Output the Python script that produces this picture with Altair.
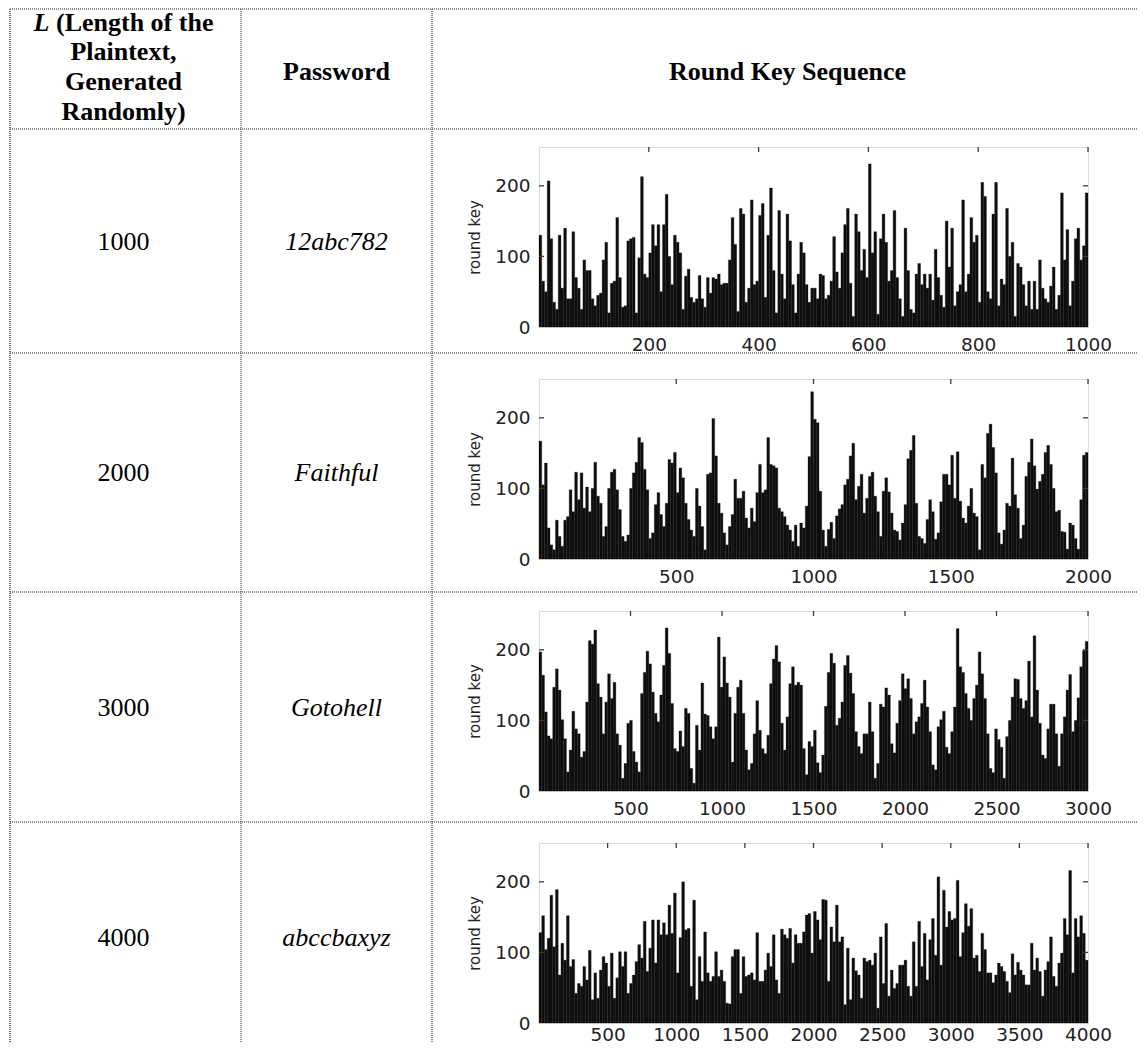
import altair as alt
import pandas as pd

# ---------------- data ----------------
L_LABELS = ["1000", "2000", "3000", "4000"]
PASSWORDS = ["12abc782", "Faithful", "Gotohell", "abccbaxyz"]
SEQ_LENGTHS = [1000, 2000, 3000, 4000]
HEADER_L = "L"
HEADER_L_REST = ["(Length of the", "Plaintext,", "Generated", "Randomly)"]
HEADER_PASSWORD = "Password"
HEADER_SEQUENCE = "Round Key Sequence"
Y_TITLE = "round key"
X_TICKS = [
    [200, 400, 600, 800, 1000],
    [500, 1000, 1500, 2000],
    [500, 1000, 1500, 2000, 2500, 3000],
    [500, 1000, 1500, 2000, 2500, 3000, 3500, 4000],
]
Y_TICKS = [0, 100, 200]
Y_MAX = 255

KEYS_1 = [
    130, 65, 50, 207, 125, 35, 25, 130, 55, 140,
    40, 40, 135, 70, 55, 25, 95, 80, 80, 40,
    30, 45, 48, 95, 120, 20, 62, 65, 155, 70,
    28, 30, 122, 125, 127, 20, 98, 213, 75, 70,
    105, 145, 115, 145, 50, 145, 188, 100, 60, 130,
    120, 105, 25, 72, 82, 42, 35, 40, 73, 40,
    28, 70, 48, 70, 68, 75, 60, 62, 62, 95,
    155, 117, 22, 168, 160, 35, 55, 180, 60, 65,
    158, 175, 42, 130, 197, 80, 20, 165, 75, 40,
    160, 122, 60, 20, 75, 120,
    105, 60, 35, 55, 55, 40, 75, 73, 40, 45,
    65, 128, 78, 55, 105, 145, 168, 62, 15, 160,
    135, 80, 110, 70, 231, 105, 135, 18, 125, 160,
    120, 65, 80, 165, 70, 40, 15, 140, 80, 25,
    20, 75, 90, 60, 75, 55, 75, 38, 110, 70,
    45, 28, 150, 85, 140, 30, 50, 60, 180, 50,
    75, 155, 120, 130, 35, 205, 185, 50, 40, 160,
    205, 30, 68, 60, 168, 100, 120, 15, 90, 85,
    60, 30, 65, 25, 65, 25, 95, 55, 40, 35,
    58, 85, 25, 45, 190, 95, 138, 30, 65, 125,
    140, 95, 115, 190,
]
KEYS_2 = [
    167, 105, 136, 44, 20, 13, 55, 32, 18, 55,
    60, 98, 67, 123, 84, 122, 72, 102, 67, 100,
    137, 89, 79, 32, 46, 100, 123, 127, 98, 70,
    32, 25, 34, 100, 122, 137, 172, 165, 127, 98,
    29, 37, 77, 94, 63, 46, 79, 141, 136, 151,
    94, 129, 115, 79, 56, 41, 32, 100, 75, 46,
    13, 120, 122, 199, 146, 79, 65, 37, 20, 46,
    63, 113, 86, 86, 96, 58, 44, 72, 53, 94,
    134, 94, 98, 172, 134, 132, 129, 72, 67, 60,
    48, 41, 25, 48, 18, 51,
    44, 75, 145, 237, 198, 193, 96, 41, 18, 42,
    52, 29, 61, 71, 77, 105, 113, 146, 164, 84,
    103, 120, 65, 86, 117, 123, 89, 67, 32, 96,
    115, 95, 65, 41, 39, 27, 51, 77, 142, 154,
    175, 79, 32, 29, 22, 56, 84, 67, 28, 37,
    81, 120, 120, 105, 147, 86, 152, 82, 58, 51,
    75, 100, 65, 60, 13, 134, 115, 178, 191, 158,
    122, 37, 21, 41, 79, 75, 143, 91, 72, 29,
    48, 117, 137, 170, 132, 99, 110, 120, 151, 161,
    134, 100, 67, 69, 39, 38, 14, 51, 48, 29,
    14, 84, 147, 151,
]
KEYS_3 = [
    197, 164, 112, 78, 74, 147, 173, 143, 101, 74,
    27, 58, 113, 88, 81, 48, 56, 126, 213, 208,
    228, 152, 133, 81, 126, 166, 131, 154, 81, 65,
    18, 39, 96, 100, 56, 41, 27, 138, 168, 198,
    180, 140, 110, 98, 136, 178, 231, 195, 124, 60,
    56, 85, 63, 117, 110, 32, 11, 93, 58, 153,
    109, 107, 91, 74, 91, 218, 147, 190, 153, 133,
    41, 110, 147, 157, 110, 58, 30, 39, 81, 128,
    86, 60, 53, 79, 152, 187, 206, 183, 96, 58,
    105, 152, 176, 150, 154, 150,
    60, 23, 70, 63, 86, 40, 26, 51, 120, 168,
    195, 181, 93, 103, 126, 178, 192, 167, 138, 84,
    63, 53, 81, 81, 126, 84, 18, 39, 123, 119,
    146, 136, 67, 54, 96, 128, 166, 145, 159, 131,
    81, 98, 105, 124, 157, 119, 84, 37, 30, 91,
    101, 113, 62, 53, 84, 119, 230, 176, 168, 138,
    117, 100, 131, 150, 197, 166, 131, 81, 32, 26,
    88, 73, 62, 18, 77, 100, 133, 159, 158, 131,
    117, 128, 184, 105, 220, 143, 96, 51, 46, 88,
    123, 123, 81, 35, 81, 105, 143, 165, 84, 100,
    132, 176, 199, 212,
]
KEYS_4 = [
    128, 152, 104, 120, 181, 108, 189, 68, 113, 89,
    152, 80, 90, 42, 56, 52, 80, 61, 103, 33,
    71, 35, 75, 94, 85, 52, 99, 35, 64, 101,
    80, 101, 42, 56, 68, 87, 111, 92, 144, 73,
    106, 146, 85, 146, 125, 142, 125, 167, 127, 184,
    71, 121, 200, 132, 134, 52, 174, 33, 94, 59,
    129, 71, 59, 66, 101, 66, 75, 59, 28, 27,
    94, 104, 104, 42, 94, 66, 68, 71, 61, 128,
    59, 59, 75, 99, 80, 125, 61, 42, 133, 125,
    120, 134, 85, 125, 113, 113,
    129, 153, 155, 99, 158, 146, 118, 175, 174, 59,
    136, 115, 167, 115, 122, 26, 106, 33, 92, 74,
    68, 35, 92, 87, 89, 82, 99, 21, 122, 56,
    141, 38, 75, 49, 56, 82, 82, 89, 52, 38,
    115, 52, 144, 80, 127, 61, 118, 148, 96, 207,
    82, 188, 136, 158, 146, 148, 202, 94, 128, 169,
    137, 162, 92, 96, 73, 127, 104, 71, 71, 57,
    68, 85, 80, 73, 59, 43, 98, 68, 86, 75,
    68, 54, 54, 113, 75, 92, 73, 38, 75, 87,
    122, 66, 52, 85, 99, 148, 125, 216, 71, 148,
    122, 152, 127, 89,
]
ALL_KEYS = [KEYS_1, KEYS_2, KEYS_3, KEYS_4]

# ---------------- layout / style ----------------
PLOT_X, PLOT_Y = 539, 147          # page position of first plot area
PW, PH, GAP = 549, 180, 52
TABLE_LEFT, TABLE_TOP = 10, 9
COL_LINES = [241, 432]
ROW_LINES = [129, 353, 592, 822]
TABLE_RIGHT, TABLE_BOTTOM = 1160, 1075
COL1_CX, COL2_CX, COL3_CX = 123.5, 336.5, 787.5
HEADER_BASELINES = [31, 60, 89.5, 119.5]
HEADER_MID_BASELINE = 80
ROW_BASELINES = [250, 481, 716, 946]
X_LABEL_PAD = [8, 8, 8, 2]
SERIF = "Liberation Serif"
TEXT_SIZE = 26
TICK_FONT = "DejaVu Sans"
TICK_SIZE = 18.5
TICK_COLOR = "#222222"
BAR_COLOR = "#0e0e0e"
FRAME_COLOR = "#3a3a3a"
LINE_COLOR = "#6a6a6a"

ONE = pd.DataFrame({"k": [0]})


def rx(p):
    return p - PLOT_X


def ry(p):
    return p - PLOT_Y


def seg(x1, y1, x2, y2, width=1.5, color=LINE_COLOR, dash=(1, 1)):
    kw = dict(color=color, strokeWidth=width)
    if dash:
        kw["strokeDash"] = list(dash)
    return alt.Chart(ONE).mark_rule(**kw).encode(
        x=alt.value(rx(x1)), x2=alt.value(rx(x2)),
        y=alt.value(ry(y1)), y2=alt.value(ry(y2)),
    )


def txt(s, x, y, weight="normal", style="normal", align="center"):
    return alt.Chart(ONE).mark_text(
        text=s, font=SERIF, fontSize=TEXT_SIZE, fontWeight=weight,
        fontStyle=style, align=align, baseline="alphabetic", color="black",
    ).encode(x=alt.value(rx(x)), y=alt.value(ry(y)))


def anchor(x, y):
    return alt.Chart(ONE).mark_rule(color="white", strokeWidth=1).encode(
        x=alt.value(x), x2=alt.value(x), y=alt.value(y), y2=alt.value(y)
    )


def round_key_panel(keys, length, xticks, label_pad, extra=()):
    n = len(keys)
    df = pd.DataFrame({
        "start": [i * length / n for i in range(n)],
        "end": [(i + 1) * length / n for i in range(n)],
        "key": keys,
    })
    xs = alt.Scale(domain=[0, length], nice=False, zero=False)
    ys = alt.Scale(domain=[0, Y_MAX], nice=False)
    x_axis = alt.Axis(
        values=xticks, title=None, format="d", labelFlush=False, labelOverlap=False,
        labelPadding=label_pad, tickSize=0, ticks=False, domain=False, grid=False,
        labelFont=TICK_FONT, labelFontSize=TICK_SIZE, labelColor=TICK_COLOR,
    )
    y_axis = alt.Axis(
        values=Y_TICKS, title=Y_TITLE, format="d", labelFlush=False, labelOverlap=False,
        labelPadding=9, tickSize=0, ticks=False, domain=False, grid=False,
        labelFont=TICK_FONT, labelFontSize=TICK_SIZE, labelColor=TICK_COLOR,
        titleFont=TICK_FONT, titleFontSize=15, titleFontWeight="normal",
        titleColor=TICK_COLOR, titleX=-64.3, titleY=PH / 2, titleAngle=270,
        titleAlign="center", titleBaseline="middle",
    )
    bars = alt.Chart(df).mark_bar(color=BAR_COLOR, stroke=BAR_COLOR, strokeWidth=0.3).encode(
        x=alt.X("start:Q", scale=xs, axis=x_axis),
        x2="end:Q",
        y=alt.Y("key:Q", scale=ys, axis=y_axis),
        y2=alt.datum(0),
    )
    tdf = pd.DataFrame({"t": xticks})
    top_ticks = alt.Chart(tdf).mark_rule(color=FRAME_COLOR, strokeWidth=1.3).encode(
        x=alt.X("t:Q", scale=xs, axis=x_axis), y=alt.value(0), y2=alt.value(5)
    )
    ydf = pd.DataFrame({"t": [v for v in Y_TICKS if v > 0]})
    right_ticks = alt.Chart(ydf).mark_rule(color=FRAME_COLOR, strokeWidth=1.3).encode(
        y=alt.Y("t:Q", scale=ys, axis=y_axis), x=alt.value(PW), x2=alt.value(PW - 5)
    )
    left_ticks = alt.Chart(ydf).mark_rule(color=FRAME_COLOR, strokeWidth=1.3).encode(
        y=alt.Y("t:Q", scale=ys, axis=y_axis), x=alt.value(0), x2=alt.value(5)
    )
    return alt.layer(bars, top_ticks, right_ticks, left_ticks, *extra).properties(
        width=PW, height=PH
    )


# ---------------- table decoration (drawn in first panel's frame) ----------------
deco = []
deco.append(seg(TABLE_LEFT, TABLE_TOP, TABLE_RIGHT, TABLE_TOP))
for y in ROW_LINES:
    deco.append(seg(TABLE_LEFT, y, TABLE_RIGHT, y))
deco.append(seg(TABLE_LEFT, TABLE_TOP, TABLE_LEFT, TABLE_BOTTOM, width=2))
for x in COL_LINES:
    deco.append(seg(x, TABLE_TOP, x, TABLE_BOTTOM))
deco.append(txt(HEADER_L, 33.6, HEADER_BASELINES[0], weight="bold", style="italic", align="left"))
deco.append(txt(HEADER_L_REST[0], 56, HEADER_BASELINES[0], weight="bold", align="left"))
for s, b in zip(HEADER_L_REST[1:], HEADER_BASELINES[1:]):
    deco.append(txt(s, COL1_CX, b, weight="bold"))
deco.append(txt(HEADER_PASSWORD, COL2_CX, HEADER_MID_BASELINE, weight="bold"))
deco.append(txt(HEADER_SEQUENCE, COL3_CX, HEADER_MID_BASELINE, weight="bold"))
for lab, pw, b in zip(L_LABELS, PASSWORDS, ROW_BASELINES):
    deco.append(txt(lab, COL1_CX, b))
    deco.append(txt(pw, COL2_CX, b, style="italic"))
# bounds anchors (outside the visible page, clipped by the padding)
deco.append(anchor(-560, -170))
deco.append(anchor(650, 950))

panels = []
for i, (keys, length, xt, lp) in enumerate(zip(ALL_KEYS, SEQ_LENGTHS, X_TICKS, X_LABEL_PAD)):
    panels.append(round_key_panel(keys, length, xt, lp, extra=deco if i == 0 else ()))

chart = alt.vconcat(*panels, spacing=GAP, bounds="flush").properties(
    padding={"left": -30, "top": -32, "right": -52, "bottom": -55}
).configure_view(
    stroke=FRAME_COLOR, strokeWidth=1.3
).configure(background="white")

chart.save("out.html", embed_options={"renderer": "svg", "actions": False})
